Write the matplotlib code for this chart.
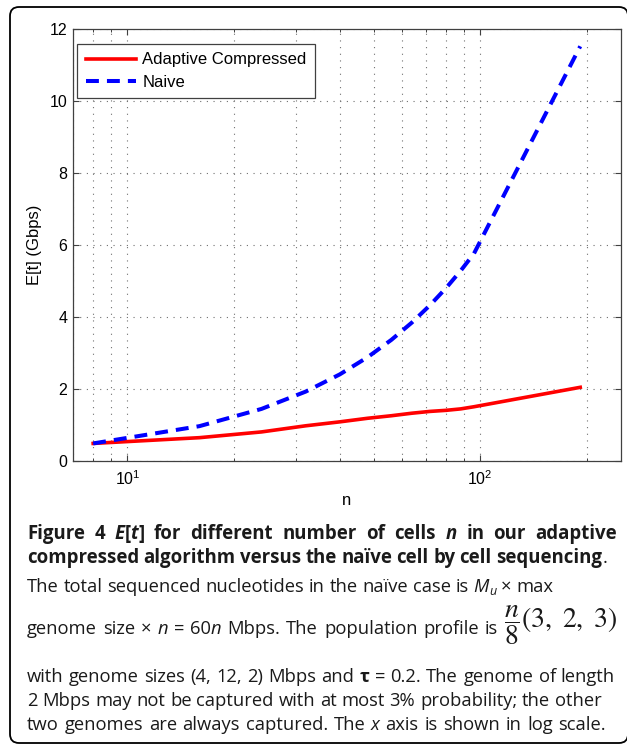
import matplotlib
matplotlib.use('Agg')
import matplotlib.pyplot as plt
from matplotlib.patches import FancyBboxPatch
from matplotlib.ticker import LogLocator, NullFormatter

# data
n_cells = [8, 16, 24, 32, 40, 48, 56, 64, 72, 80, 88, 96, 192]
adaptive = [0.48, 0.64, 0.80, 0.97, 1.08, 1.18, 1.25, 1.32, 1.37, 1.40, 1.44, 1.50, 2.04]
naive = [0.48, 0.96, 1.44, 1.92, 2.40, 2.88, 3.36, 3.84, 4.32, 4.80, 5.28, 5.76, 11.52]
y_ticks = [0, 2, 4, 6, 8, 10, 12]

W, H = 627, 746
plt.rcParams['font.family'] = ['Liberation Sans', 'DejaVu Sans']

fig = plt.figure(figsize=(W / 100, H / 100), dpi=100)

# outer caption box
box = FancyBboxPatch((10, 3), 618, 736, boxstyle='round,pad=0,rounding_size=9',
                     transform=None, facecolor='none', edgecolor='black', linewidth=1.3)
fig.patches.append(box)

ax = fig.add_axes([72.7 / W, 1 - 460.7 / H, 548 / W, 431.7 / H])
ax.plot(n_cells, adaptive, color='red', lw=2.6, label='Adaptive Compressed')
ax.plot(n_cells, naive, color='blue', lw=2.9, dashes=(3.2, 2), dash_capstyle='butt',
        label='Naive')
ax.set_xscale('log')
ax.set_xlim(7, 250)
ax.set_ylim(0, 12)
ax.set_yticks(y_ticks)
ax.xaxis.set_minor_locator(LogLocator(base=10, subs=range(2, 10)))
ax.xaxis.set_minor_formatter(NullFormatter())
ax.grid(True, which='major', color='#707070', linestyle=(0, (1, 5)), lw=0.8)
ax.grid(True, which='minor', axis='x', color='#707070', linestyle=(0, (1, 5)), lw=0.8)
ax.tick_params(which='both', direction='in', top=True, right=True, color='#404040',
               labelsize=11.5)
ax.tick_params(which='major', length=4, width=0.8)
ax.tick_params(which='minor', length=2.5, width=0.7)
ax.tick_params(axis='x', pad=6)
ax.tick_params(axis='y', pad=4)
for sp in ax.spines.values():
    sp.set_color('#404040')
    sp.set_linewidth(0.9)
ax.set_xlabel('n', fontsize=12, labelpad=4)
ax.set_ylabel('E[t] (Gbps)', fontsize=12, labelpad=5)

leg = ax.legend(loc='upper left', bbox_to_anchor=(0.0084, 0.965), borderaxespad=0,
                fontsize=12, fancybox=False, edgecolor='#404040', framealpha=1,
                handlelength=3.0, handletextpad=0.4, borderpad=0.5, labelspacing=0.45)
leg.get_frame().set_linewidth(0.9)

# caption text, drawn piece by piece
renderer = fig.canvas.get_renderer()
cap = ['Open Sans', 'DejaVu Sans']
ink = '#1a1a1a'
REG = 13.2
BOLD = 13.4


def width(s, **kw):
    a = fig.text(0, 0, '|' + s + '|', **kw)
    b = fig.text(0, 0, '||', **kw)
    w = a.get_window_extent(renderer).width - b.get_window_extent(renderer).width
    a.remove()
    b.remove()
    return w


def fill(kw):
    kw = dict(kw)
    dy = kw.pop('dy', 0)
    kw.setdefault('family', cap)
    kw.setdefault('fontsize', REG)
    kw.setdefault('color', ink)
    return kw, dy


def line(y, pieces, right=None, x=27):
    # spread the words so the line ends where it does in the figure
    natural = 0
    gaps = 0
    for s, kw in pieces:
        kw, dy = fill(kw)
        natural += width(s, **kw)
        if '$' not in s:
            gaps += s.count(' ')
    extra = 0 if right is None else (right - x - natural) / max(gaps, 1)
    for s, kw in pieces:
        kw, dy = fill(kw)
        if '$' in s:
            fig.text(x / W, 1 - (y + dy) / H, s, va='baseline', ha='left', **kw)
            x += width(s, **kw)
            continue
        words = s.split(' ')
        for i, wd in enumerate(words):
            if wd:
                fig.text(x / W, 1 - (y + dy) / H, wd, va='baseline', ha='left', **kw)
                x += width(wd, **kw)
            if i < len(words) - 1:
                x += width(' ', **kw) + extra


B = dict(weight='bold', fontsize=BOLD)
BI = dict(weight='bold', style='italic', fontsize=BOLD)
R = dict()
I = dict(style='italic')

line(539, [('Figure 4 ', B), ('E', BI), ('[', B), ('t', BI),
           ('] for different number of cells ', B), ('n', BI), (' in our adaptive', B)], 617)
line(563, [('compressed algorithm versus the naïve cell by cell sequencing', B), ('.', R)], 607)
line(592, [('The total sequenced nucleotides in the naïve case is ', R), ('M', I),
           ('u', dict(style='italic', fontsize=9, dy=3)), (' × max', R)])
line(634, [('genome size × ', R), ('n', I), (' = 60', R), ('n', I),
           (' Mbps. The population profile is ', R),
           (r'$\dfrac{n}{8}(3,\ 2,\ 3)$', dict(fontsize=20, dy=-6, math_fontfamily='stix'))],
     612)
line(682, [('with genome sizes (4, 12, 2) Mbps and ', R), ('τ', dict(weight='bold')),
           (' = 0.2. The genome of length', R)], 615)
line(706, [('2 Mbps may not be captured with at most 3% probability; the other', R)])
line(730, [('two genomes are always captured. The ', R), ('x', I),
           (' axis is shown in log scale.', R)], 606)

fig.savefig('out.png', dpi=100)
